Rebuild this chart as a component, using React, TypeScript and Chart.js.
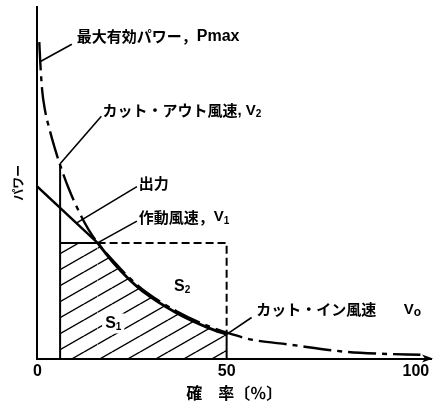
import { useEffect, useRef } from "react";
import { Chart, registerables } from "chart.js";

Chart.register(...registerables);

// 確率 (%) と パワー の範囲、目盛
const xMax = 104;
const yMax = 100;
const xTicks = [0, 50, 100];

// 最大有効パワー Pmax（一点鎖線）
const pmaxX = [0.5, 0.76, 1.26, 2.02, 3.28, 4.55, 5.8, 8.3, 10.9, 13.4, 15.9, 20.2, 24.2, 28.5, 36.9, 45.5, 50.0, 56.6, 66.5, 80.9, 90.5, 101.2];
const pmaxY = [90.0, 84.3, 76.3, 70.6, 64.9, 60.0, 55.7, 48.3, 42.0, 36.9, 32.9, 27.6, 23.1, 19.1, 13.4, 9.1, 7.4, 5.4, 4.0, 2.0, 1.4, 1.1];

// 出力：直線部分と曲線部分
const outputLineX = [0, 15.9];
const outputLineY = [48.9, 32.9];
const outputCurveX = [15.9, 20.2, 24.2, 28.5, 36.9, 45.5, 50.0];
const outputCurveY = [32.9, 27.1, 22.6, 18.6, 12.9, 8.6, 6.9];

// 各風速に対応する確率と、そこでのパワー
const cutOutX = 6.0; // カット・アウト風速 V2
const ratedX = 15.9; // 作動風速 V1
const cutInX = 50.0; // カット・イン風速 V0
const ratedPower = 32.9;
const cutOutTop = 55.4;
const pmaxAtCutIn = 7.4;
const outputAtCutIn = 6.9;

const CJK = '"Noto Sans CJK JP", sans-serif';
const LAT = '"Liberation Sans", Arial, sans-serif';
const cjk = (s: number) => `bold ${s}px ${CJK}`;
const lat = (s: number) => `bold ${s}px ${LAT}`;

type Piece = { text: string; font: string; dy?: number };
type Note = {
  x: number;
  y: number;
  pieces: Piece[];
  leader?: [number, number, number, number];
  clear?: boolean;
};

// 注記（位置はデータ座標）
const notes: Note[] = [
  {
    x: 10.4, y: 91.7,
    pieces: [{ text: "最大有効パワー，", font: cjk(15) }, { text: "Pmax", font: lat(16) }],
    leader: [9.1, 89.4, 0.8, 84.5],
  },
  {
    x: 17.2, y: 70.6,
    pieces: [
      { text: "カット・アウト風速", font: cjk(15) },
      { text: ", V", font: lat(15) },
      { text: "2", font: lat(10), dy: 4 },
    ],
    leader: [16.9, 68.9, cutOutX, cutOutTop],
  },
  {
    x: 26.8, y: 50.0,
    pieces: [{ text: "出力", font: cjk(15) }],
    leader: [26.3, 48.9, 10.4, 38.6],
  },
  {
    x: 26.8, y: 40.3,
    pieces: [
      { text: "作動風速，", font: cjk(15) },
      { text: "V", font: lat(15) },
      { text: "1", font: lat(10), dy: 4 },
    ],
    leader: [26.3, 39.1, ratedX, ratedPower],
  },
  {
    x: 36.1, y: 20.6,
    pieces: [{ text: "S", font: lat(16) }, { text: "2", font: lat(10), dy: 4 }],
  },
  {
    x: 17.9, y: 10.0,
    pieces: [{ text: "S", font: lat(16) }, { text: "1", font: lat(10), dy: 4 }],
    clear: true,
  },
  {
    x: 57.8, y: 14.0,
    pieces: [{ text: "カット・イン風速", font: cjk(15) }],
    leader: [56.6, 11.7, cutInX, outputAtCutIn],
  },
  {
    x: 96.8, y: 14.0,
    pieces: [{ text: "V", font: lat(15) }, { text: "o", font: lat(12), dy: 3 }],
  },
];

const pts = (xs: number[], ys: number[]) => xs.map((x, i) => ({ x, y: ys[i] }));

function makeHatch(): CanvasPattern | string {
  const w = 28;
  const h = 16;
  const c = document.createElement("canvas");
  c.width = w;
  c.height = h;
  const g = c.getContext("2d");
  if (!g) return "rgba(0,0,0,0.2)";
  g.strokeStyle = "#000";
  g.lineWidth = 1.4;
  for (const dy of [-h, 0, h]) {
    g.beginPath();
    g.moveTo(0, h + dy);
    g.lineTo(w, dy);
    g.stroke();
  }
  return g.createPattern(c, "repeat") || "rgba(0,0,0,0.2)";
}

const notesPlugin = {
  id: "notes",
  afterDatasetsDraw(chart: any) {
    const { ctx, scales, chartArea } = chart;
    const xs = scales.x;
    const ys = scales.y;
    ctx.save();
    ctx.fillStyle = "#000";
    ctx.strokeStyle = "#000";
    ctx.textBaseline = "middle";
    ctx.textAlign = "left";
    for (const n of notes) {
      const px = xs.getPixelForValue(n.x);
      const py = ys.getPixelForValue(n.y);
      if (n.leader) {
        const [x1, y1, x2, y2] = n.leader;
        ctx.lineWidth = 1.6;
        ctx.beginPath();
        ctx.moveTo(xs.getPixelForValue(x1), ys.getPixelForValue(y1));
        ctx.lineTo(xs.getPixelForValue(x2), ys.getPixelForValue(y2));
        ctx.stroke();
      }
      let w = 0;
      for (const p of n.pieces) {
        ctx.font = p.font;
        w += ctx.measureText(p.text).width;
      }
      if (n.clear) {
        ctx.fillStyle = "#fff";
        ctx.fillRect(px - 3, py - 10, w + 6, 20);
        ctx.fillStyle = "#000";
      }
      let cx = px;
      for (const p of n.pieces) {
        ctx.font = p.font;
        ctx.fillText(p.text, cx, py + (p.dy ?? 0));
        cx += ctx.measureText(p.text).width;
      }
    }
    // 横軸の矢印
    const ax = chartArea.right + 2;
    const ay = chartArea.bottom;
    ctx.beginPath();
    ctx.moveTo(ax, ay);
    ctx.lineTo(ax - 11, ay - 4);
    ctx.lineTo(ax - 8, ay);
    ctx.lineTo(ax - 11, ay + 4);
    ctx.closePath();
    ctx.fill();
    ctx.restore();
  },
};

export default function App() {
  const ref = useRef<HTMLCanvasElement | null>(null);

  useEffect(() => {
    if (!ref.current) return;
    const hatch = makeHatch();
    const line = (data: { x: number; y: number }[], extra: any = {}) => ({
      data,
      showLine: true,
      pointRadius: 0,
      borderColor: "#000",
      borderWidth: 2,
      fill: false,
      ...extra,
    });

    const chart = new Chart(ref.current, {
      type: "scatter",
      data: {
        datasets: [
          line(pts(pmaxX, pmaxY), {
            borderWidth: 2.4,
            borderDash: [28, 6, 5, 6],
            cubicInterpolationMode: "monotone",
          }),
          line(pts(outputCurveX, outputCurveY), {
            borderWidth: 2.8,
            cubicInterpolationMode: "monotone",
            fill: "origin",
            backgroundColor: hatch,
          }),
          line(pts(outputLineX, outputLineY), { borderWidth: 2.4 }),
          line(
            [
              { x: cutOutX, y: ratedPower },
              { x: ratedX, y: ratedPower },
            ],
            { fill: "origin", backgroundColor: hatch }
          ),
          line(
            [
              { x: ratedX, y: ratedPower },
              { x: cutInX, y: ratedPower },
              { x: cutInX, y: pmaxAtCutIn },
            ],
            { borderDash: [8, 4] }
          ),
          line([
            { x: cutOutX, y: 0 },
            { x: cutOutX, y: cutOutTop },
          ]),
          line([
            { x: cutInX, y: 0 },
            { x: cutInX, y: outputAtCutIn },
          ]),
        ],
      },
      options: {
        animation: false,
        responsive: false,
        devicePixelRatio: 1,
        events: [],
        layout: { padding: { top: 7, left: 8, right: 6, bottom: 0 } },
        plugins: { legend: { display: false }, tooltip: { enabled: false } },
        scales: {
          x: {
            type: "linear",
            min: 0,
            max: xMax,
            grid: { display: false, drawTicks: false },
            border: { display: true, color: "#000", width: 2 },
            afterBuildTicks: (scale: any) => {
              scale.ticks = xTicks.map((v) => ({ value: v }));
            },
            ticks: {
              autoSkip: false,
              maxRotation: 0,
              padding: 3,
              color: "#000",
              font: { family: LAT, size: 16, weight: "bold" },
              callback: (v: any) => String(v),
            },
            title: {
              display: true,
              text: "確　率〔％〕",
              color: "#000",
              font: { family: CJK, size: 16, weight: "bold" },
              padding: { top: 0, bottom: 0 },
            },
          },
          y: {
            type: "linear",
            min: 0,
            max: yMax,
            grid: { display: false, drawTicks: false },
            border: { display: true, color: "#000", width: 2 },
            ticks: { display: false },
            title: {
              display: true,
              text: "パワー",
              color: "#000",
              font: { family: CJK, size: 12, weight: "bold" },
              padding: { top: 3, bottom: 12 },
            },
          },
        },
      },
      plugins: [notesPlugin],
    } as any);

    return () => chart.destroy();
  }, []);

  return (
    <div style={{ position: "absolute", left: 0, top: 0, width: 437, height: 403, background: "#fff" }}>
      <canvas ref={ref} width={437} height={403} style={{ display: "block", width: 437, height: 403 }} />
    </div>
  );
}
